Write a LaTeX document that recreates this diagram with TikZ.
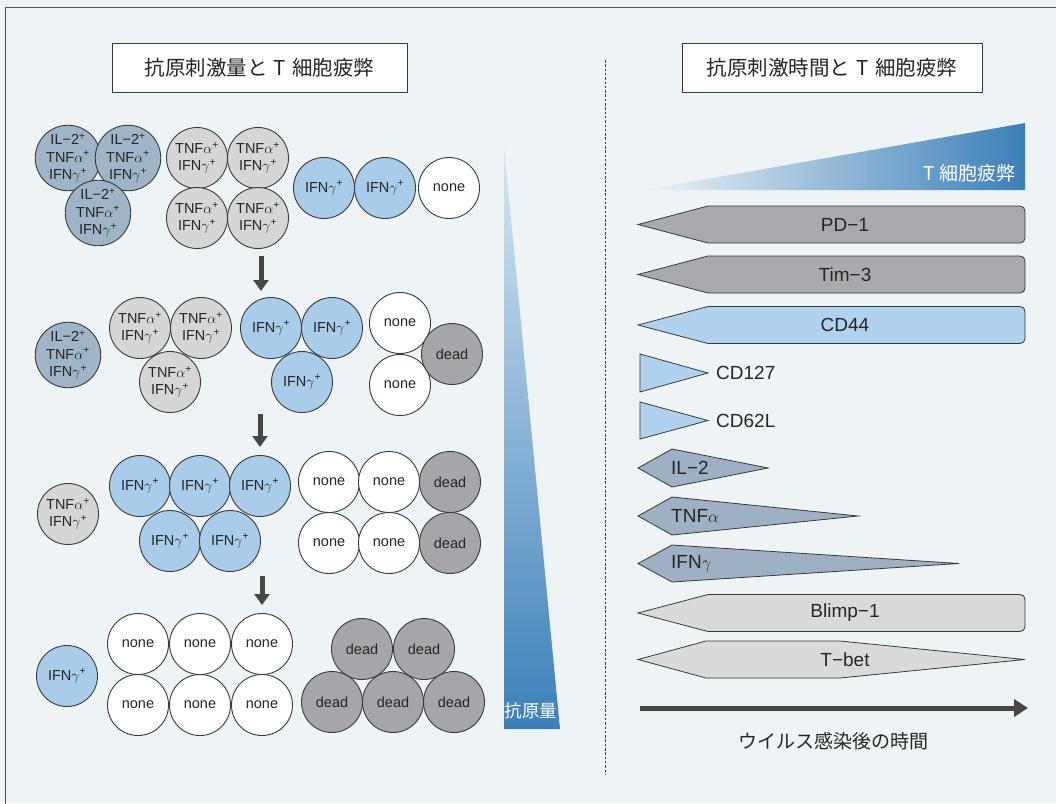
\documentclass[tikz,border=0pt]{standalone}
\usepackage{fontspec}
\setmainfont{Liberation Sans}
\newfontfamily\jp{Noto Sans CJK JP}
\usetikzlibrary{arrows.meta}
\definecolor{bgc}{HTML}{EEF3F6}
\definecolor{framec}{HTML}{555555}
\definecolor{linec}{HTML}{3A3A3A}
\definecolor{cA}{HTML}{9FB4C7}
\definecolor{cB}{HTML}{D5D6D8}
\definecolor{cC}{HTML}{A8CCEA}
\definecolor{cD}{HTML}{A4A6AA}
\definecolor{barG}{HTML}{A8AAAE}
\definecolor{barB}{HTML}{B1D2EE}
\definecolor{barS}{HTML}{9DB0C4}
\definecolor{barL}{HTML}{D9DADC}
\definecolor{wedgeT}{HTML}{D8E6F2}
\definecolor{wedgeB}{HTML}{3B7FB9}
\definecolor{arrc}{HTML}{474747}
\newcommand\cellfont{\fontsize{14.5}{17.5}\selectfont}
\newcommand\barfont{\fontsize{19}{22}\selectfont}
\newcommand\jpfont{\jp\fontsize{19}{22}\selectfont}
\newcommand\ttlfont{\jp\fontsize{20.5}{24}\selectfont}
\newcommand\sgn{\textsuperscript{+}}
\newcommand\lA{IL−2\sgn\\TNF$\alpha$\sgn\\IFN$\gamma$\sgn}
\newcommand\lB{TNF$\alpha$\sgn\\IFN$\gamma$\sgn}
\newcommand\lC{IFN$\gamma$\sgn}
\newcommand\lbar[2]{%
\filldraw[bar,fill=#1] (638,#2) -- (708,{#2-18.5}) -- (1020,{#2-18.5}) .. controls (1023,{#2-18.5}) and (1025,{#2-16.5}) .. (1025,{#2-13.5}) -- (1025,{#2+13.5}) .. controls (1025,{#2+16.5}) and (1023,{#2+18.5}) .. (1020,{#2+18.5}) -- (708,{#2+18.5}) -- cycle;}
\tikzset{
  cell/.style={circle, draw=linec, line width=0.9pt, minimum size=61pt, inner sep=0pt, align=center, font=\cellfont, text=black!85},
  titlebox/.style={draw=linec, fill=white, line width=0.9pt, minimum height=49pt, font=\ttlfont, text=black!85},
  bar/.style={draw=linec, line width=0.8pt},
  barlabel/.style={font=\barfont, text=black!85, inner sep=0pt},
  downarrow/.style={draw=arrc, line width=5pt, -{Triangle[width=15pt,length=11pt]}},
}
\begin{document}
\begin{tikzpicture}[x=1pt,y=-1pt]
\useasboundingbox (0,0) rectangle (1056,803);
\fill[bgc] (0,0) rectangle (1056,803);
\draw[framec, line width=1pt] (5.5,812) -- (5.5,7.5) -- (1066,7.5);

% titles
\node[titlebox, minimum width=295pt] (t1) at (259.5,67.5) {抗原刺激量と\hspace{0.3em}T\hspace{0.3em}細胞疲弊};
\node[titlebox, minimum width=300pt] (t2) at (832,67.5) {抗原刺激時間と\hspace{0.3em}T\hspace{0.3em}細胞疲弊};

% dashed divider
\coordinate (dv1) at (605,60);
\coordinate (dv2) at (605,775);
\draw[linec, line width=0.8pt, dash pattern=on 2.5pt off 1.8pt] (dv1) -- (dv2);

% row 1
\node[cell, fill=cA] (a1) at (68,158) {\lA};
\node[cell, fill=cA] (a2) at (128,158) {\lA};
\node[cell, fill=cA] (a3) at (98,213) {\lA};
\node[cell, fill=cB] (a4) at (197,158) {\lB};
\node[cell, fill=cB] (a5) at (258,158) {\lB};
\node[cell, fill=cB] (a6) at (197,218) {\lB};
\node[cell, fill=cB] (a7) at (258,218) {\lB};
\node[cell, fill=cC] (a8) at (324,188) {\lC};
\node[cell, fill=cC] (a9) at (385,188) {\lC};
\node[cell, fill=white] (a10) at (449,188) {none};

% row 2
\node[cell, fill=cA] (b1) at (68,355) {\lA};
\node[cell, fill=cB] (b2) at (140,328) {\lB};
\node[cell, fill=cB] (b3) at (201,328) {\lB};
\node[cell, fill=cB] (b4) at (170,382) {\lB};
\node[cell, fill=cC] (b5) at (271,328) {\lC};
\node[cell, fill=cC] (b6) at (332,328) {\lC};
\node[cell, fill=cC] (b7) at (302,382) {\lC};
\node[cell, fill=white] (b8) at (400,323) {none};
\node[cell, fill=white] (b9) at (400,385) {none};
\node[cell, fill=cD] (b10) at (452,354) {dead};

% row 3
\node[cell, fill=cB] (c1) at (68,514) {\lB};
\node[cell, fill=cC] (c2) at (140,486) {\lC};
\node[cell, fill=cC] (c3) at (200,486) {\lC};
\node[cell, fill=cC] (c4) at (260,486) {\lC};
\node[cell, fill=cC] (c5) at (170,541) {\lC};
\node[cell, fill=cC] (c6) at (230,541) {\lC};
\node[cell, fill=white] (c7) at (329,482) {none};
\node[cell, fill=white] (c8) at (389,482) {none};
\node[cell, fill=cD] (c9) at (450,482) {dead};
\node[cell, fill=white] (c10) at (329,543) {none};
\node[cell, fill=white] (c11) at (389,543) {none};
\node[cell, fill=cD] (c12) at (450,543) {dead};

% row 4
\node[cell, fill=cC] (d1) at (67,676) {\lC};
\node[cell, fill=white] (d2) at (138,644) {none};
\node[cell, fill=white] (d3) at (200,644) {none};
\node[cell, fill=white] (d4) at (262,644) {none};
\node[cell, fill=white] (d5) at (138,705) {none};
\node[cell, fill=white] (d6) at (200,705) {none};
\node[cell, fill=white] (d7) at (262,705) {none};
\node[cell, fill=cD] (d8) at (362,649) {dead};
\node[cell, fill=cD] (d9) at (424,649) {dead};
\node[cell, fill=cD] (d10) at (332,702) {dead};
\node[cell, fill=cD] (d11) at (393,702) {dead};
\node[cell, fill=cD] (d12) at (454,702) {dead};

% down arrows
\coordinate (ar1s) at (261,256); \coordinate (ar1e) at (261,291);
\coordinate (ar2s) at (260,414); \coordinate (ar2e) at (260,447);
\coordinate (ar3s) at (262,576); \coordinate (ar3e) at (262,605);
\draw[downarrow] (ar1s) -- (ar1e);
\draw[downarrow] (ar2s) -- (ar2e);
\draw[downarrow] (ar3s) -- (ar3e);

% antigen wedge
\shade[top color=wedgeT, bottom color=wedgeB] (504,146) -- (560,729) -- (504,729) -- cycle;
\node[font=\jp\fontsize{17.5}{20}\selectfont, text=white, inner sep=0pt] (ag) at (531,711) {抗原量};

% exhaustion wedge
\shade[left color=bgc, right color=wedgeB] (645,190) -- (1025,123) -- (1025,190) -- cycle;
\node[font=\jpfont, text=white, inner sep=0pt, anchor=east] (ex) at (1016,173) {T\hspace{0.25em}細胞疲弊};

% long bars
\lbar{barG}{224.5}
\node[barlabel] (lpd) at (845,224.5) {PD−1};
\lbar{barG}{274.5}
\node[barlabel] (ltim) at (845,274.5) {Tim−3};
\lbar{barB}{325}
\node[barlabel] (lcd44) at (845,325) {CD44};

% small triangles
\filldraw[bar, fill=barB] (640,354) -- (708,373) -- (640,392) -- cycle;
\node[barlabel, anchor=west] (lcd127) at (716,373) {CD127};
\filldraw[bar, fill=barB] (640,402) -- (708,420.5) -- (640,439) -- cycle;
\node[barlabel, anchor=west] (lcd62) at (716,420.5) {CD62L};

% cytokines
\filldraw[bar, fill=barS] (638,468) -- (672,449) -- (768,468) -- (672,487) -- cycle;
\node[barlabel, anchor=west] (lil2) at (671,468) {IL−2};
\filldraw[bar, fill=barS] (638,516) -- (672,497) -- (858,516) -- (672,535) -- cycle;
\node[barlabel, anchor=west] (ltnf) at (671,516) {TNF$\alpha$};
\filldraw[bar, fill=barS] (638,563.5) -- (672,545) -- (959,563.5) -- (672,582) -- cycle;
\node[barlabel, anchor=west] (lifn) at (671,563.5) {IFN$\gamma$};

% transcription factors
\lbar{barL}{613}
\node[barlabel] (lbl) at (845,613) {Blimp−1};
\filldraw[bar, fill=barL] (638,659.5) -- (706,641) -- (840,641) -- (1025,659.5) -- (840,678) -- (706,678) -- cycle;
\node[barlabel] (ltb) at (845,659.5) {T−bet};

% time arrow
\coordinate (ts) at (640,708);
\coordinate (te) at (1028,708);
\draw[arrc, line width=5pt, -{Triangle[width=17pt,length=14pt]}] (ts) -- (te);
\node[font=\jpfont, text=black!85, inner sep=0pt] (tl) at (833,741) {ウイルス感染後の時間};
\end{tikzpicture}
\end{document}
